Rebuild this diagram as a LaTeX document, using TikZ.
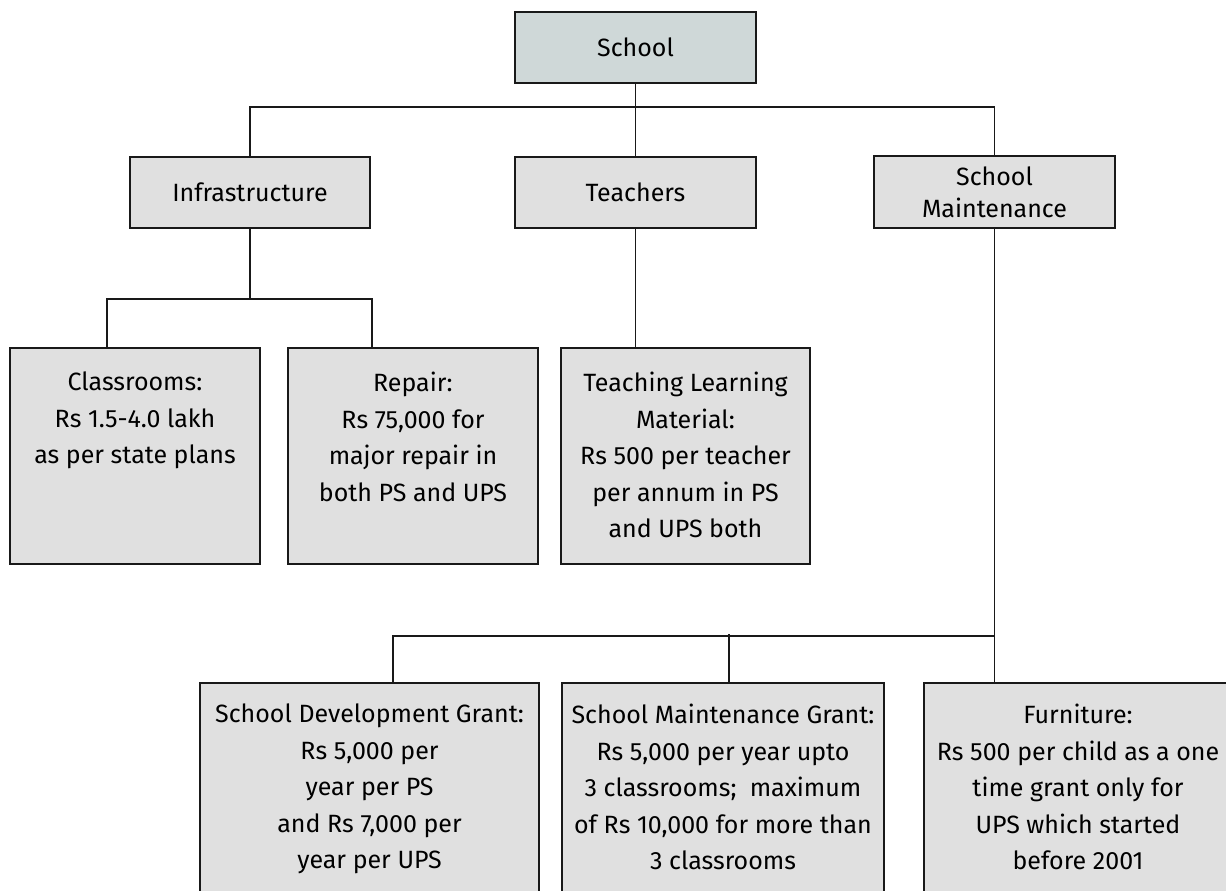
\documentclass[tikz,border=0pt]{standalone}
\usepackage{fontspec}
\setmainfont{Fira Sans}
\definecolor{topfill}{HTML}{CFD8D8}
\definecolor{boxfill}{HTML}{E0E0E0}
\tikzset{
  box/.style={draw=black!90, line width=2.2pt, fill=boxfill, inner sep=0pt, align=center, font=\fontsize{25}{32}\selectfont},
  txt/.style={anchor=north, inner sep=0pt, align=center, font=\fontsize{25}{36.5}\selectfont},
  link/.style={line width=1.7pt, black!90},
}
\begin{document}
\begin{tikzpicture}[x=1pt,y=-1pt]
        \useasboundingbox (0,0) rectangle (1226,891);
        \clip (0,0) rectangle (1226,891);
        \node[box, fill=topfill, minimum width=241pt, minimum height=71pt] (school) at (635.5,47.5) {School};
        \node[box, minimum width=240pt, minimum height=71pt] (infra) at (250,192.5) {Infrastructure};
        \node[box, minimum width=241pt, minimum height=71pt] (teachers) at (635.5,192.5) {Teachers};
        \node[box, minimum width=241pt, minimum height=72pt] (maint) at (994.5,192) {School\\Maintenance};
        \node[box, minimum width=250pt, minimum height=216pt, label={[txt,yshift=-25pt]north:{Classrooms:\\Rs 1.5-4.0 lakh\\as per state plans}}] (classrooms) at (135,456) {};
        \node[box, minimum width=250pt, minimum height=216pt, label={[txt,yshift=-25pt]north:{Repair:\\Rs 75,000 for\\major repair in\\both PS and UPS}}] (repair) at (413,456) {};
        \node[box, minimum width=249pt, minimum height=216pt, label={[txt,yshift=-25pt]north:{Teaching Learning\\Material:\\Rs 500 per teacher\\per annum in PS\\and UPS both}}] (teaching) at (685.5,456) {};
        \node[box, minimum width=339pt, minimum height=222pt, label={[txt,yshift=-22pt]north:{School Development Grant:\\Rs 5,000 per\\year per PS\\and Rs 7,000 per\\year per UPS}}] (sdg) at (369.5,794) {};
        \node[box, minimum width=322pt, minimum height=222pt, label={[txt,yshift=-22pt]north:{School Maintenance Grant:\\Rs 5,000 per year upto\\3 classrooms;~ maximum\\of Rs 10,000 for more than\\3 classrooms}}] (smg) at (723,794) {};
        \node[box, minimum width=308pt, minimum height=222pt, label={[txt,yshift=-22pt]north:{Furniture:\\Rs 500 per child as a one\\time grant only for\\UPS which started\\before 2001}}] (furniture) at (1078,794) {};
        \draw[link] (school) -- (teachers);
        \draw[link] (infra.north) -- ++(0,-49) -| (maint.north);
        \draw[link] (infra.south) -- ++(0,70) coordinate (ibus);
        \draw[link] ([xshift=-28pt]classrooms.north) |- (ibus) -| ([xshift=-41pt]repair.north);
        \draw[link] (teachers.south) -- (teachers.south |- teaching.north);
        \draw[link] (maint.south) -- (maint.south |- furniture.north);
        \path (maint.south) ++(0,407) coordinate (mbus);
        \draw[link] ([xshift=23.5pt]sdg.north) |- (mbus);
        \draw[link] ([xshift=6pt]smg.north) -- ++(0,-48);
        \end{tikzpicture}
\end{document}
